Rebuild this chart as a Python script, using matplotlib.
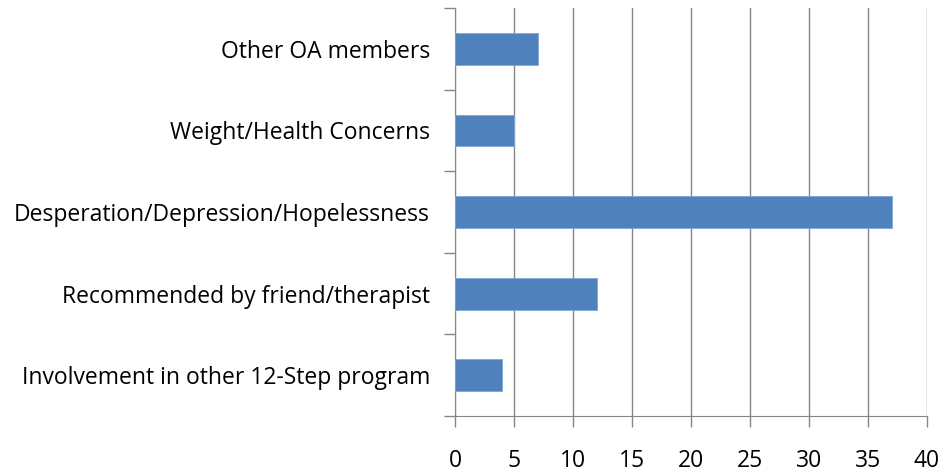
import matplotlib
matplotlib.use('Agg')
import matplotlib.pyplot as plt

categories = ['Involvement in other 12-Step program',
              'Recommended by friend/therapist',
              'Desperation/Depression/Hopelessness',
              'Weight/Health Concerns',
              'Other OA members']
values = [4, 12, 37, 5, 7]
xticks = [0, 5, 10, 15, 20, 25, 30, 35, 40]

plt.rcParams['font.family'] = ['Open Sans', 'DejaVu Sans']

fig = plt.figure(figsize=(9.43, 4.72), dpi=100)
ax = fig.add_axes([0.4825, 0.1186, 0.5005, 0.8644])

ypos = list(range(len(categories)))
ax.barh(ypos, values, height=0.39, color='#4f81bd', edgecolor='#7fa6d6', linewidth=0.6, zorder=3)

ax.set_xlim(0, 40)
ax.set_ylim(-0.5, len(categories) - 0.5)
ax.set_xticks(xticks)
ax.set_xticklabels([str(t) for t in xticks], fontsize=16.5)
ax.set_yticks(ypos)
ax.set_yticklabels(categories, fontsize=16.5)
ax.tick_params(axis='y', length=0, pad=18)
ax.set_yticks([i - 0.5 for i in range(len(categories) + 1)], minor=True)
ax.tick_params(axis='y', which='minor', length=8, color='#868686', width=1)
ax.tick_params(axis='x', length=8, color='#868686', width=1, pad=16)

ax.grid(axis='x', color='#868686', linewidth=1, zorder=0)
for s in ['top', 'right']:
    ax.spines[s].set_visible(False)
ax.spines['left'].set_color('#868686')
ax.spines['bottom'].set_color('#868686')

fig.savefig('out.png', dpi=100)
plt.close()
